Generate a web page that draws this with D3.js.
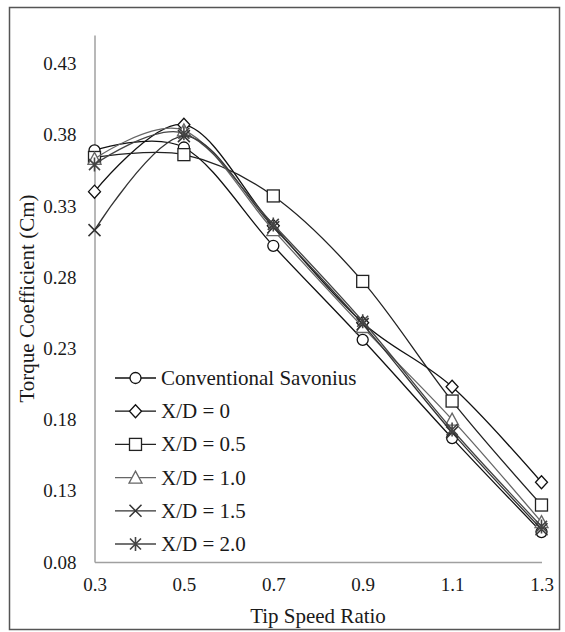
<!DOCTYPE html>
<html>
<head>
<meta charset="utf-8">
<script src="https://cdn.jsdelivr.net/npm/d3@7"></script>
<style>
  html, body { margin: 0; padding: 0; background: #fff; }
  svg { display: block; }
</style>
</head>
<body>
<svg id="chart" width="565" height="632"></svg>
<script>
// Tip speed ratios on the x axis
const tipSpeedRatios = [0.3, 0.5, 0.7, 0.9, 1.1, 1.3];

// Torque coefficient (Cm) for each rotor configuration
const conventional = [0.369, 0.371, 0.302, 0.236, 0.167, 0.101];
const xd0          = [0.340, 0.387, 0.316, 0.248, 0.203, 0.136];
const xd05         = [0.364, 0.366, 0.337, 0.277, 0.193, 0.120];
const xd10         = [0.363, 0.383, 0.313, 0.245, 0.180, 0.108];
const xd15         = [0.313, 0.379, 0.315, 0.247, 0.171, 0.103];
const xd20         = [0.359, 0.381, 0.317, 0.249, 0.173, 0.105];

const seriesNames = ["Conventional Savonius", "X/D = 0", "X/D = 0.5", "X/D = 1.0", "X/D = 1.5", "X/D = 2.0"];
const seriesValues = [conventional, xd0, xd05, xd10, xd15, xd20];
const seriesMarkers = ["circle", "diamond", "square", "triangle", "cross", "asterisk"];
const seriesColors = ["#111", "#111", "#222", "#666", "#333", "#444"];

// Axis tick labels
const yTicks = [0.08, 0.13, 0.18, 0.23, 0.28, 0.33, 0.38, 0.43];
const xTicks = [0.3, 0.5, 0.7, 0.9, 1.1, 1.3];

const FONT = "'Liberation Serif', 'Times New Roman', serif";
const TEXT_COLOR = "#1a1a1a";

const svg = d3.select("#chart");

const x = d3.scaleLinear().domain([0.3, 1.3]).range([94.5, 541.5]);
const y = d3.scaleLinear().domain([0.08, 0.45]).range([562, 35]);

// outer frame
svg.append("rect")
  .attr("x", 9.5).attr("y", 7.5).attr("width", 550).attr("height", 622)
  .attr("fill", "none").attr("stroke", "#555").attr("stroke-width", 1.5);

// y axis
const yAxis = d3.axisLeft(y).tickValues(yTicks).tickSize(0).tickPadding(18)
  .tickFormat(d3.format(".2f"));
const gy = svg.append("g").attr("transform", `translate(${x(0.3)},0)`).call(yAxis);
gy.select(".domain").attr("stroke", "#a0a0a0").attr("stroke-width", 1.5);
gy.selectAll("text").style("font-family", FONT).style("font-size", "19px").attr("fill", TEXT_COLOR);

// x axis
const xAxis = d3.axisBottom(x).tickValues(xTicks).tickSize(0).tickPadding(16)
  .tickFormat(d3.format(".1f"));
const gx = svg.append("g").attr("transform", `translate(0,${y(0.08)})`).call(xAxis);
gx.select(".domain").attr("stroke", "#a0a0a0").attr("stroke-width", 1.5);
gx.selectAll("text").style("font-family", FONT).style("font-size", "19px").attr("fill", TEXT_COLOR);

// axis titles
svg.append("text")
  .attr("x", (x(0.3) + x(1.3)) / 2).attr("y", 623)
  .attr("text-anchor", "middle")
  .style("font-family", FONT).style("font-size", "21px").attr("fill", TEXT_COLOR)
  .text("Tip Speed Ratio");

svg.append("text")
  .attr("transform", `translate(34,${(y(0.08) + y(0.45)) / 2}) rotate(-90)`)
  .attr("text-anchor", "middle")
  .style("font-family", FONT).style("font-size", "21px").attr("fill", TEXT_COLOR)
  .text("Torque Coefficient (Cm)");

// marker drawing
function drawMarker(g, type, cx, cy, color) {
  const s = 6;
  if (type === "circle") {
    g.append("circle").attr("cx", cx).attr("cy", cy).attr("r", 5.5)
      .attr("fill", "#fff").attr("stroke", color).attr("stroke-width", 1.3);
  } else if (type === "diamond") {
    g.append("path")
      .attr("d", `M${cx},${cy - 6.5}L${cx + 6},${cy}L${cx},${cy + 6.5}L${cx - 6},${cy}Z`)
      .attr("fill", "#fff").attr("stroke", color).attr("stroke-width", 1.3);
  } else if (type === "square") {
    g.append("rect").attr("x", cx - s).attr("y", cy - s).attr("width", 2 * s).attr("height", 2 * s)
      .attr("fill", "#fff").attr("stroke", color).attr("stroke-width", 1.3);
  } else if (type === "triangle") {
    g.append("path")
      .attr("d", `M${cx},${cy - 6.5}L${cx + 6.5},${cy + 5.5}L${cx - 6.5},${cy + 5.5}Z`)
      .attr("fill", "#fff").attr("stroke", color).attr("stroke-width", 1.3);
  } else if (type === "cross") {
    g.append("path")
      .attr("d", `M${cx - 6},${cy - 6}L${cx + 6},${cy + 6}M${cx - 6},${cy + 6}L${cx + 6},${cy - 6}`)
      .attr("stroke", color).attr("stroke-width", 1.5);
  } else if (type === "asterisk") {
    g.append("path")
      .attr("d", `M${cx - 5.5},${cy - 5.5}L${cx + 5.5},${cy + 5.5}M${cx - 5.5},${cy + 5.5}L${cx + 5.5},${cy - 5.5}M${cx},${cy - 7}L${cx},${cy + 7}`)
      .attr("stroke", color).attr("stroke-width", 1.6);
  }
}

const line = d3.line()
  .x((d, i) => x(tipSpeedRatios[i]))
  .y(d => y(d))
  .curve(d3.curveCardinal.tension(0));

const plot = svg.append("g");
seriesValues.forEach((vals, k) => {
  const g = plot.append("g");
  g.append("path").attr("d", line(vals))
    .attr("fill", "none").attr("stroke", seriesColors[k]).attr("stroke-width", 1.3);
  vals.forEach((v, i) => drawMarker(g, seriesMarkers[k], x(tipSpeedRatios[i]), y(v), seriesColors[k]));
});

// legend
const legend = svg.append("g");
seriesNames.forEach((name, k) => {
  const ly = 378 + k * 33.2;
  legend.append("line").attr("x1", 115).attr("x2", 156).attr("y1", ly).attr("y2", ly)
    .attr("stroke", seriesColors[k]).attr("stroke-width", 1.3);
  drawMarker(legend, seriesMarkers[k], 135.5, ly, seriesColors[k]);
  legend.append("text").attr("x", 161).attr("y", ly + 7)
    .style("font-family", FONT).style("font-size", "21px").attr("fill", TEXT_COLOR)
    .text(name);
});
</script>
</body>
</html>
